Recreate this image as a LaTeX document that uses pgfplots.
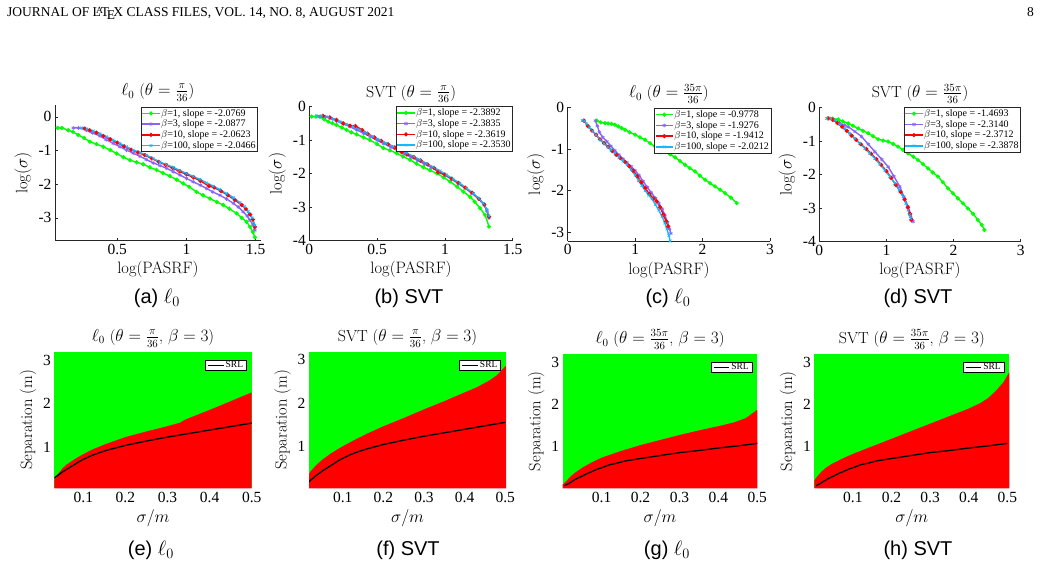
\documentclass[border=0pt]{standalone}
\usepackage{fontspec}
\usepackage{pgfplots}
\pgfplotsset{compat=1.18}
\newfontfamily\tms{Liberation Serif}
\newfontfamily\hlv{Liberation Sans}
\newcommand\tickfont{\tms\fontsize{15.5}{17}\selectfont}
\newcommand\labfont{\fontsize{16.5}{18}\selectfont}
\newcommand\titfont{\fontsize{16}{18}\selectfont}
\newcommand\legfont{\tms\fontsize{10}{11}\selectfont}
\newcommand\srlfont{\tms\fontsize{9.5}{10}\selectfont}
\newcommand\capfont{\hlv\fontsize{20}{22}\selectfont}
\definecolor{mgreen}{RGB}{0,255,0}
\definecolor{mpurple}{RGB}{135,100,250}
\definecolor{mred}{RGB}{255,0,0}
\definecolor{mcyan}{RGB}{20,185,250}
\definecolor{axgray}{RGB}{38,38,38}
\pgfplotsset{
  every axis/.append style={scale only axis},
  toppanel/.style={
    axis x line*=bottom, axis y line*=left,
    axis line style={draw=axgray, line width=0.5pt},
    tick align=inside, major tick length=3pt,
    tick style={axgray, line width=0.5pt},
    ticklabel style={font=\tickfont, text=black},
    label style={font=\labfont},
    xlabel style={yshift=0pt},
    title style={font=\titfont, yshift=-6pt},
    xlabel={log(PASRF)}, ylabel={$\log(\sigma)$},
    legend cell align=left,
    legend style={font=\legfont, draw=axgray, fill=white, line width=0.5pt,
      at={(1,1)}, anchor=north east, inner xsep=1pt, inner ysep=1pt,
      nodes={inner sep=0.9pt}, row sep=0.5pt},
  },
  botpanel/.style={
    axis line style={draw=none},
    major tick length=0pt,
    ticklabel style={font=\tickfont, text=black},
    label style={font=\labfont},
    xlabel style={yshift=0pt},
    title style={font=\titfont, yshift=-5pt},
    xlabel={$\sigma/m$}, ylabel={Separation (m)},
    xtick={0.1,0.2,0.3,0.4,0.5}, xticklabels={0.1,0.2,0.3,0.4,0.5},
    ytick={1,2,3}, yticklabels={1,2,3},
    axis background/.style={fill=mgreen},
    legend style={font=\srlfont, draw=black, fill=white, line width=0.6pt,
      at={(1,1)}, anchor=north east, xshift=-5pt, yshift=-8pt,
      inner xsep=2pt, inner ysep=0pt, nodes={inner sep=1.3pt}},
    legend image code/.code={\draw[#1] (0cm,0cm) -- (0.55cm,0cm);},
  },
  beta1/.style={mgreen, line width=1.4pt, mark=*, mark size=1.3pt},
  beta3/.style={mpurple, line width=1.4pt, mark=asterisk, mark size=1.9pt, mark options={line width=0.7pt}},
  beta10/.style={mred, line width=1.4pt, mark=*, mark size=1.3pt},
  beta100/.style={mcyan, line width=1.4pt, mark=x, mark size=1.8pt, mark options={line width=0.7pt}},
  srl/.style={black, line width=1.3pt},
  region/.style={fill=mred, draw=none, forget plot},
}
\begin{document}
\begin{tikzpicture}[x=1pt,y=1pt]
\useasboundingbox (0,0) rectangle (1041,565);
\node[anchor=base west, font=\tms\fontsize{13.5}{15}\selectfont, inner sep=0pt] at (7,548.5) {JOURNAL OF \LaTeX\ CLASS FILES, VOL. 14, NO. 8, AUGUST 2021};
\node[anchor=base east, font=\tms\fontsize{13.5}{15}\selectfont, inner sep=0pt] at (1034,548.5) {8};

% ---------- (a) l0, theta = pi/36 ----------
\begin{axis}[toppanel, at={(55pt,324.3pt)}, anchor=south west, width=205.7pt, height=135.7pt,
  xmin=0.05, xmax=1.537, ymin=-3.68, ymax=0.35,
  xtick={0.5,1,1.5}, xticklabels={0.5,1,1.5},
  ytick={-3,-2,-1,0}, yticklabels={-3,-2,-1,0},
  legend style={xshift=-3pt, yshift=-2pt},
  title={$\ell_0$ ($\theta=\frac{\pi}{36}$)}]
\addplot[beta1] coordinates {(0.069,-0.33) (0.10,-0.33) (0.146,-0.40) (0.18,-0.45) (0.218,-0.54) (0.26,-0.63) (0.302,-0.74) (0.35,-0.81) (0.399,-0.89) (0.45,-0.99) (0.495,-1.09) (0.545,-1.20) (0.592,-1.29) (0.64,-1.35) (0.688,-1.41) (0.735,-1.50) (0.784,-1.58) (0.83,-1.67) (0.881,-1.76) (0.93,-1.87) (0.977,-1.98) (1.02,-2.08) (1.073,-2.23) (1.12,-2.33) (1.17,-2.43) (1.22,-2.53) (1.266,-2.62) (1.31,-2.73) (1.363,-2.87) (1.40,-3.00) (1.435,-3.12) (1.46,-3.27) (1.48,-3.42) (1.495,-3.58)};
\addlegendentry{$\beta$=1, slope = -2.0769}
\addplot[beta3] coordinates {(0.182,-0.33) (0.22,-0.33) (0.254,-0.35) (0.278,-0.40) (0.32,-0.48) (0.375,-0.57) (0.42,-0.68) (0.471,-0.79) (0.52,-0.89) (0.567,-0.99) (0.615,-1.08) (0.663,-1.17) (0.71,-1.27) (0.76,-1.37) (0.81,-1.45) (0.857,-1.53) (0.905,-1.63) (0.953,-1.73) (1.0,-1.83) (1.049,-1.93) (1.10,-2.03) (1.146,-2.13) (1.19,-2.23) (1.242,-2.33) (1.29,-2.44) (1.339,-2.57) (1.375,-2.68) (1.41,-2.82) (1.44,-2.95) (1.459,-3.07) (1.48,-3.20) (1.495,-3.37)};
\addlegendentry{$\beta$=3, slope = -2.0877}
\addplot[beta10] coordinates {(0.266,-0.35) (0.30,-0.40) (0.35,-0.47) (0.40,-0.57) (0.45,-0.67) (0.50,-0.77) (0.55,-0.88) (0.60,-0.98) (0.65,-1.06) (0.70,-1.14) (0.75,-1.24) (0.80,-1.34) (0.85,-1.43) (0.90,-1.52) (0.95,-1.62) (1.0,-1.71) (1.05,-1.80) (1.10,-1.90) (1.163,-2.06) (1.20,-2.10) (1.25,-2.21) (1.30,-2.33) (1.35,-2.47) (1.40,-2.62) (1.43,-2.74) (1.46,-2.90) (1.48,-3.05) (1.495,-3.27)};
\addlegendentry{$\beta$=10, slope = -2.0623}
\addplot[beta100] coordinates {(0.242,-0.33) (0.28,-0.36) (0.327,-0.42) (0.375,-0.50) (0.423,-0.59) (0.47,-0.69) (0.519,-0.79) (0.567,-0.89) (0.616,-0.99) (0.665,-1.06) (0.712,-1.14) (0.76,-1.24) (0.808,-1.34) (0.855,-1.42) (0.905,-1.50) (0.95,-1.59) (1.0,-1.68) (1.05,-1.77) (1.098,-1.86) (1.145,-1.96) (1.194,-2.06) (1.24,-2.16) (1.29,-2.28) (1.34,-2.40) (1.387,-2.55) (1.42,-2.67) (1.447,-2.82) (1.475,-3.00) (1.495,-3.22)};
\addlegendentry{$\beta$=100, slope = -2.0466}
\end{axis}

% ---------- (b) SVT, theta = pi/36 ----------
\begin{axis}[toppanel, at={(309.3pt,324.3pt)}, anchor=south west, width=203.4pt, height=134.2pt,
  xmin=0, xmax=1.5, ymin=-4, ymax=0,
  xtick={0,0.5,1,1.5}, xticklabels={0,0.5,1,1.5},
  ytick={-4,-3,-2,-1,0}, yticklabels={-4,-3,-2,-1,0},
  title={SVT ($\theta=\frac{\pi}{36}$)}]
\addplot[beta1] coordinates {(0.017,-0.30) (0.05,-0.30) (0.079,-0.31) (0.11,-0.38) (0.14,-0.45) (0.17,-0.50) (0.2,-0.55) (0.24,-0.63) (0.275,-0.70) (0.31,-0.77) (0.349,-0.83) (0.40,-0.92) (0.447,-1.00) (0.50,-1.12) (0.546,-1.24) (0.595,-1.31) (0.644,-1.39) (0.69,-1.49) (0.743,-1.59) (0.79,-1.70) (0.841,-1.81) (0.89,-1.90) (0.939,-1.99) (0.99,-2.11) (1.038,-2.24) (1.09,-2.39) (1.136,-2.54) (1.185,-2.69) (1.22,-2.84) (1.259,-3.03) (1.296,-3.23) (1.325,-3.58)};
\addlegendentry{$\beta$=1, slope = -2.3892}
\addplot[beta3] coordinates {(0.079,-0.30) (0.12,-0.31) (0.16,-0.36) (0.20,-0.43) (0.25,-0.52) (0.30,-0.60) (0.35,-0.70) (0.40,-0.80) (0.45,-0.90) (0.50,-1.01) (0.55,-1.11) (0.60,-1.21) (0.65,-1.31) (0.70,-1.41) (0.75,-1.51) (0.80,-1.61) (0.85,-1.71) (0.90,-1.82) (0.95,-1.93) (1.0,-2.05) (1.05,-2.17) (1.10,-2.30) (1.15,-2.44) (1.20,-2.59) (1.25,-2.76) (1.29,-2.94) (1.31,-3.10) (1.325,-3.33)};
\addlegendentry{$\beta$=3, slope = -2.3835}
\addplot[beta10] coordinates {(0.10,-0.28) (0.15,-0.32) (0.20,-0.40) (0.25,-0.50) (0.30,-0.57) (0.34,-0.58) (0.39,-0.70) (0.43,-0.81) (0.48,-0.92) (0.53,-1.02) (0.58,-1.12) (0.63,-1.22) (0.68,-1.36) (0.72,-1.43) (0.77,-1.51) (0.82,-1.61) (0.87,-1.72) (0.92,-1.83) (0.95,-1.96) (1.0,-2.03) (1.05,-2.15) (1.10,-2.28) (1.15,-2.42) (1.20,-2.57) (1.25,-2.75) (1.29,-2.92) (1.325,-3.28)};
\addlegendentry{$\beta$=10, slope = -2.3619}
\addplot[beta100] coordinates {(0.054,-0.28) (0.09,-0.28) (0.14,-0.31) (0.18,-0.38) (0.226,-0.45) (0.275,-0.53) (0.325,-0.60) (0.375,-0.70) (0.423,-0.80) (0.47,-0.90) (0.521,-1.00) (0.57,-1.10) (0.62,-1.19) (0.67,-1.29) (0.718,-1.39) (0.77,-1.49) (0.816,-1.59) (0.865,-1.70) (0.915,-1.81) (0.965,-1.92) (1.013,-2.04) (1.06,-2.16) (1.111,-2.29) (1.16,-2.44) (1.21,-2.59) (1.25,-2.74) (1.283,-2.89) (1.31,-3.07) (1.325,-3.26)};
\addlegendentry{$\beta$=100, slope = -2.3530}
\end{axis}

% ---------- (c) l0, theta = 35pi/36 ----------
\begin{axis}[toppanel, at={(567.7pt,324pt)}, anchor=south west, width=202.3pt, height=133.7pt,
  xmin=0, xmax=3, ymin=-3.21, ymax=0,
  xtick={0,1,2,3}, xticklabels={0,1,2,3},
  ytick={-3,-2,-1,0}, yticklabels={-3,-2,-1,0},
  legend style={xshift=1pt, yshift=-1pt},
  title={$\ell_0$ ($\theta=\frac{35\pi}{36}$)}]
\addplot[beta1] coordinates {(0.43,-0.32) (0.49,-0.36) (0.554,-0.38) (0.60,-0.39) (0.65,-0.40) (0.70,-0.42) (0.75,-0.46) (0.80,-0.50) (0.85,-0.54) (0.92,-0.60) (1.0,-0.66) (1.07,-0.72) (1.147,-0.78) (1.22,-0.86) (1.295,-0.94) (1.37,-1.00) (1.443,-1.06) (1.52,-1.13) (1.592,-1.20) (1.665,-1.29) (1.74,-1.38) (1.81,-1.46) (1.888,-1.54) (1.96,-1.64) (2.037,-1.74) (2.11,-1.82) (2.185,-1.90) (2.26,-1.98) (2.333,-2.06) (2.42,-2.17) (2.506,-2.30)};
\addlegendentry{$\beta$=1, slope = -0.9778}
\addplot[beta3] coordinates {(0.41,-0.32) (0.44,-0.45) (0.47,-0.60) (0.52,-0.72) (0.58,-0.82) (0.64,-0.93) (0.70,-1.04) (0.76,-1.14) (0.82,-1.24) (0.88,-1.33) (0.94,-1.42) (1.0,-1.52) (1.06,-1.64) (1.12,-1.78) (1.18,-1.92) (1.24,-2.05) (1.30,-2.18) (1.35,-2.30) (1.40,-2.44) (1.44,-2.58) (1.48,-2.76) (1.51,-2.92) (1.53,-3.03)};
\addlegendentry{$\beta$=3, slope = -1.9276}
\addplot[beta10] coordinates {(0.24,-0.32) (0.30,-0.45) (0.36,-0.56) (0.42,-0.66) (0.48,-0.77) (0.54,-0.86) (0.60,-0.95) (0.66,-1.05) (0.72,-1.14) (0.78,-1.22) (0.85,-1.31) (0.91,-1.41) (0.97,-1.52) (1.03,-1.65) (1.09,-1.80) (1.15,-1.94) (1.21,-2.08) (1.27,-2.19) (1.32,-2.26) (1.37,-2.40) (1.42,-2.58) (1.46,-2.74) (1.49,-2.86)};
\addlegendentry{$\beta$=10, slope = -1.9412}
\addplot[beta100] coordinates {(0.215,-0.32) (0.25,-0.33) (0.28,-0.40) (0.32,-0.48) (0.37,-0.57) (0.42,-0.66) (0.48,-0.78) (0.54,-0.87) (0.60,-0.96) (0.64,-1.02) (0.70,-1.10) (0.76,-1.20) (0.82,-1.29) (0.88,-1.38) (0.94,-1.50) (1.0,-1.63) (1.05,-1.76) (1.10,-1.88) (1.15,-2.00) (1.20,-2.11) (1.25,-2.20) (1.30,-2.33) (1.35,-2.47) (1.40,-2.62) (1.44,-2.78) (1.47,-2.92) (1.50,-3.08) (1.52,-3.21)};
\addlegendentry{$\beta$=100, slope = -2.0212}
\end{axis}

% ---------- (d) SVT, theta = 35pi/36 ----------
\begin{axis}[toppanel, at={(819.3pt,323.3pt)}, anchor=south west, width=201.4pt, height=134.4pt,
  xmin=0, xmax=3, ymin=-4, ymax=0,
  xtick={0,1,2,3}, xticklabels={0,1,2,3},
  ytick={-4,-3,-2,-1,0}, yticklabels={-4,-3,-2,-1,0},
  title={SVT ($\theta=\frac{35\pi}{36}$)}]
\addplot[beta1] coordinates {(0.134,-0.33) (0.2,-0.34) (0.282,-0.36) (0.35,-0.42) (0.43,-0.48) (0.50,-0.55) (0.579,-0.63) (0.65,-0.70) (0.728,-0.77) (0.80,-0.86) (0.876,-0.95) (0.95,-0.99) (1.025,-1.02) (1.10,-1.09) (1.173,-1.17) (1.25,-1.27) (1.322,-1.37) (1.40,-1.47) (1.47,-1.57) (1.545,-1.69) (1.619,-1.82) (1.69,-1.94) (1.767,-2.06) (1.84,-2.23) (1.916,-2.41) (1.99,-2.56) (2.064,-2.71) (2.14,-2.86) (2.213,-3.01) (2.29,-3.17) (2.361,-3.35) (2.42,-3.50) (2.46,-3.65)};
\addlegendentry{$\beta$=1, slope = -1.4693}
\addplot[beta3] coordinates {(0.158,-0.33) (0.22,-0.38) (0.30,-0.47) (0.37,-0.53) (0.431,-0.58) (0.53,-0.72) (0.629,-0.87) (0.73,-1.10) (0.827,-1.32) (0.93,-1.55) (1.025,-1.77) (1.11,-2.05) (1.198,-2.36) (1.26,-2.66) (1.322,-2.96) (1.36,-3.18) (1.396,-3.40)};
\addlegendentry{$\beta$=3, slope = -2.3140}
\addplot[beta10] coordinates {(0.13,-0.33) (0.2,-0.37) (0.27,-0.47) (0.34,-0.58) (0.41,-0.70) (0.48,-0.84) (0.55,-0.97) (0.62,-1.10) (0.70,-1.24) (0.77,-1.38) (0.85,-1.54) (0.92,-1.71) (1.0,-1.90) (1.07,-2.10) (1.14,-2.31) (1.21,-2.52) (1.27,-2.74) (1.32,-2.98) (1.35,-3.17) (1.371,-3.35)};
\addlegendentry{$\beta$=10, slope = -2.3712}
\addplot[beta100] coordinates {(0.109,-0.33) (0.17,-0.34) (0.233,-0.38) (0.30,-0.50) (0.381,-0.63) (0.45,-0.77) (0.53,-0.92) (0.60,-1.07) (0.678,-1.22) (0.75,-1.37) (0.827,-1.52) (0.90,-1.69) (0.975,-1.87) (1.05,-2.06) (1.124,-2.26) (1.19,-2.46) (1.248,-2.66) (1.29,-2.86) (1.322,-3.06) (1.345,-3.20) (1.361,-3.31)};
\addlegendentry{$\beta$=100, slope = -2.3878}
\end{axis}

% ---------- (e) l0, theta = pi/36, beta = 3 ----------
\begin{axis}[botpanel, at={(54.3pt,76.7pt)}, anchor=south west, width=197.4pt, height=136.6pt,
  xmin=0.031, xmax=0.5, ymin=0.07, ymax=3.19,
  title={$\ell_0$ ($\theta=\frac{\pi}{36}$, $\beta=3$)}]
\addplot[region] coordinates {(0.03,0.27) (0.032,0.28) (0.04,0.40) (0.05,0.52) (0.06,0.61) (0.08,0.74) (0.1,0.85) (0.12,0.95) (0.15,1.07) (0.2,1.24) (0.25,1.37) (0.3,1.49) (0.33,1.57) (0.34,1.63) (0.35,1.67) (0.4,1.86) (0.45,2.06) (0.5,2.26) (0.502,2.27)} \closedcycle;
\addplot[srl] coordinates {(0.015,0.17) (0.02,0.22) (0.03,0.30) (0.04,0.37) (0.05,0.44) (0.06,0.50) (0.07,0.56) (0.08,0.62) (0.09,0.68) (0.1,0.73) (0.12,0.82) (0.14,0.89) (0.16,0.95) (0.18,1.00) (0.2,1.05) (0.25,1.15) (0.3,1.24) (0.35,1.32) (0.4,1.40) (0.45,1.48) (0.5,1.56)};
\addlegendentry{SRL}
\end{axis}

% ---------- (f) SVT, theta = pi/36, beta = 3 ----------
\begin{axis}[botpanel, at={(309pt,76.7pt)}, anchor=south west, width=197pt, height=136.6pt,
  xmin=0.017, xmax=0.502, ymin=0.04, ymax=3.19,
  title={SVT ($\theta=\frac{\pi}{36}$, $\beta=3$)}]
\addplot[region] coordinates {(0.015,0.33) (0.02,0.42) (0.03,0.53) (0.04,0.62) (0.05,0.70) (0.07,0.84) (0.1,1.01) (0.13,1.16) (0.16,1.30) (0.2,1.47) (0.25,1.66) (0.3,1.86) (0.35,2.05) (0.4,2.25) (0.43,2.37) (0.46,2.52) (0.48,2.65) (0.5,2.85) (0.503,2.87)} \closedcycle;
\addplot[srl] coordinates {(0.015,0.17) (0.02,0.22) (0.03,0.30) (0.04,0.37) (0.05,0.44) (0.06,0.50) (0.07,0.56) (0.08,0.62) (0.09,0.68) (0.1,0.73) (0.12,0.82) (0.14,0.89) (0.16,0.95) (0.18,1.00) (0.2,1.05) (0.25,1.15) (0.3,1.24) (0.35,1.32) (0.4,1.40) (0.45,1.48) (0.5,1.56)};
\addlegendentry{SRL}
\end{axis}

% ---------- (g) l0, theta = 35pi/36, beta = 3 ----------
\begin{axis}[botpanel, at={(562.7pt,76.7pt)}, anchor=south west, width=194.6pt, height=134.3pt,
  xmin=0, xmax=0.5, ymin=0.01, ymax=3.21,
  title={$\ell_0$ ($\theta=\frac{35\pi}{36}$, $\beta=3$)}]
\addplot[region] coordinates {(0.0,0.10) (0.01,0.19) (0.02,0.29) (0.03,0.37) (0.05,0.50) (0.075,0.63) (0.1,0.74) (0.15,0.90) (0.2,1.04) (0.25,1.16) (0.3,1.28) (0.35,1.39) (0.4,1.49) (0.44,1.58) (0.47,1.68) (0.5,1.88)} \closedcycle;
\addplot[srl] coordinates {(0.005,0.07) (0.01,0.10) (0.015,0.12) (0.02,0.15) (0.03,0.21) (0.04,0.26) (0.05,0.30) (0.06,0.35) (0.07,0.39) (0.08,0.43) (0.09,0.47) (0.1,0.50) (0.12,0.57) (0.14,0.61) (0.16,0.66) (0.18,0.69) (0.2,0.72) (0.25,0.79) (0.3,0.86) (0.35,0.91) (0.4,0.97) (0.45,1.02) (0.5,1.08)};
\addlegendentry{SRL}
\end{axis}

% ---------- (h) SVT, theta = 35pi/36, beta = 3 ----------
\begin{axis}[botpanel, at={(814.3pt,76.7pt)}, anchor=south west, width=195pt, height=134.3pt,
  xmin=0, xmax=0.505, ymin=0.01, ymax=3.21,
  title={SVT ($\theta=\frac{35\pi}{36}$, $\beta=3$)}]
\addplot[region] coordinates {(0,0.2) (0.01,0.32) (0.02,0.42) (0.03,0.50) (0.045,0.59) (0.06,0.66) (0.08,0.75) (0.1,0.83) (0.15,1.01) (0.2,1.19) (0.25,1.37) (0.3,1.55) (0.35,1.73) (0.4,1.91) (0.43,2.04) (0.45,2.16) (0.47,2.33) (0.49,2.54) (0.505,2.78)} \closedcycle;
\addplot[srl] coordinates {(0.005,0.07) (0.01,0.10) (0.015,0.12) (0.02,0.15) (0.03,0.21) (0.04,0.26) (0.05,0.30) (0.06,0.35) (0.07,0.39) (0.08,0.43) (0.09,0.47) (0.1,0.50) (0.12,0.57) (0.14,0.61) (0.16,0.66) (0.18,0.69) (0.2,0.72) (0.25,0.79) (0.3,0.86) (0.35,0.91) (0.4,0.97) (0.45,1.02) (0.5,1.08)};
\addlegendentry{SRL}
\end{axis}

% ---------- sub-captions ----------
\node[font=\capfont] at (157,267) {(a) $\ell_0$};
\node[font=\capfont] at (409,267) {(b) SVT};
\node[font=\capfont] at (668,267) {(c) $\ell_0$};
\node[font=\capfont] at (918,267) {(d) SVT};
\node[font=\capfont] at (151,15) {(e) $\ell_0$};
\node[font=\capfont] at (408,15) {(f) SVT};
\node[font=\capfont] at (667,15) {(g) $\ell_0$};
\node[font=\capfont] at (918,15) {(h) SVT};
\end{tikzpicture}
\end{document}
